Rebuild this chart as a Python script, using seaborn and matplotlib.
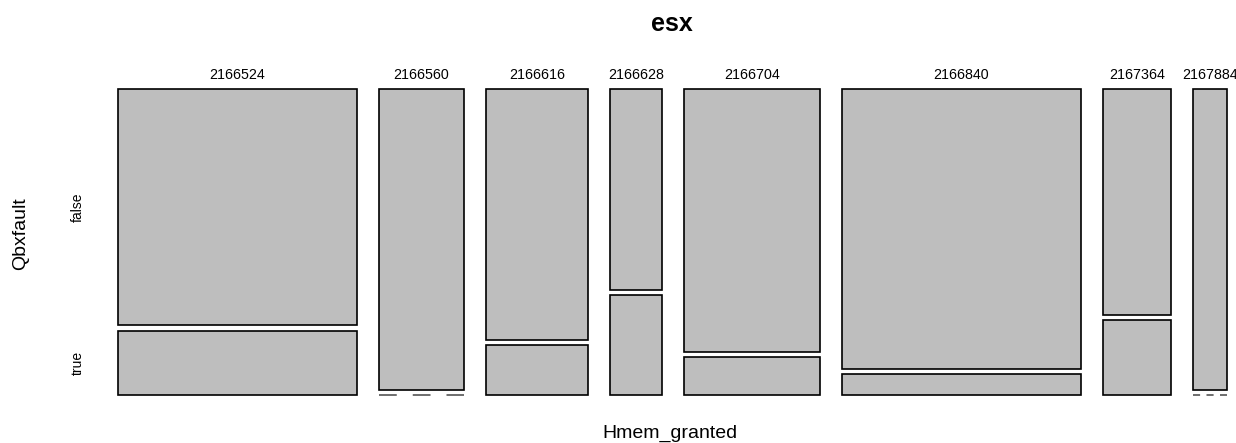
import matplotlib
matplotlib.use("Agg")
import matplotlib.pyplot as plt
import seaborn as sns
import numpy as np

sns.set_style("white")
plt.rcParams["font.family"] = ["Liberation Sans", "DejaVu Sans"]
plt.rcParams["text.color"] = "black"

# Contingency counts: Hmem_granted (columns) x Qbxfault (rows)
hmem_levels = ["2166524", "2166560", "2166616", "2166628",
               "2166704", "2166840", "2167364", "2167884"]
fault_levels = ["false", "true"]
count_false = [11, 5, 5, 2, 7, 13, 3, 2]
count_true = [3, 0, 1, 1, 1, 1, 1, 0]

fill = "#BEBEBE"
W, H = 1236, 443
fig = plt.figure(figsize=(W / 100, H / 100), dpi=100)
ax = fig.add_axes([118 / W, 1 - 395 / H, (1227 - 118) / W, (395 - 89) / H])
ax.set_xlim(0, 1)
ax.set_ylim(0, 1)
ax.axis("off")

n_cols = len(hmem_levels)
gap_x = 22 / 1109
gap_y = 5 / 306
col_tot = np.array(count_false) + np.array(count_true)
widths = col_tot / col_tot.sum() * (1 - (n_cols - 1) * gap_x)
lefts = np.concatenate([[0], np.cumsum(widths + gap_x)[:-1]])

for i in range(n_cols):
    x0, w = lefts[i], widths[i]
    nf, nt = count_false[i], count_true[i]
    tot = nf + nt
    avail = 1 - gap_y
    h_true = nt / tot * avail
    h_false = nf / tot * avail
    # "false" cell on top
    ax.bar(x0, h_false, width=w, bottom=1 - h_false, align="edge",
           color=fill, edgecolor="black", linewidth=1.2, clip_on=False)
    if nt > 0:
        ax.bar(x0, h_true, width=w, bottom=0, align="edge",
               color=fill, edgecolor="black", linewidth=1.2, clip_on=False)
    else:
        # empty cell drawn as a dashed line
        wpx = w * 1109
        d = wpx / 4.8 / 1.389
        g = d * 0.9
        ax.plot([x0, x0 + w], [0, 0], color="#555555", linewidth=1.2,
                linestyle=(0, (d / 1.2, g / 1.2)), solid_capstyle="butt",
                dash_capstyle="butt", clip_on=False)
    ax.text(x0 + w / 2, 1 + 14 / 306, hmem_levels[i], ha="center",
            va="center", fontsize=10.3, clip_on=False)

# row labels placed at the first column's cells
tot0 = count_false[0] + count_true[0]
h_t0 = count_true[0] / tot0 * (1 - gap_y)
h_f0 = count_false[0] / tot0 * (1 - gap_y)
ax.text(-40 / 1109, 1 - h_f0 / 2, fault_levels[0], rotation=90,
        ha="center", va="center", fontsize=10, clip_on=False)
ax.text(-40 / 1109, h_t0 / 2, fault_levels[1], rotation=90,
        ha="center", va="center", fontsize=10, clip_on=False)

fig.text(672 / W, 1 - 24 / H, "esx", ha="center", va="center",
         fontsize=18, fontweight="bold")
fig.text(670 / W, 1 - 438 / H, "Hmem_granted", ha="center", va="baseline",
         fontsize=14)
fig.text(21 / W, 1 - 234 / H, "Qbxfault", ha="center", va="center",
         rotation=90, fontsize=14)

fig.savefig("out.png", dpi=100, facecolor="white")
